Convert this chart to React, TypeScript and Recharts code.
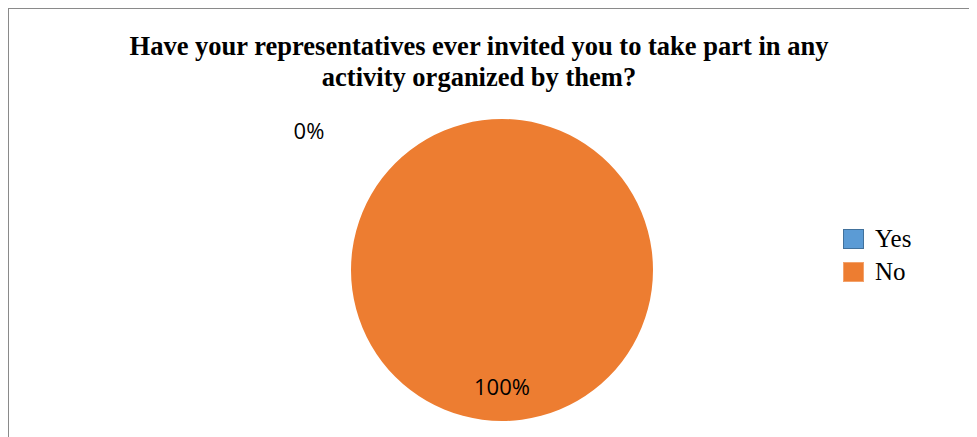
import React from 'react';
import { PieChart, Pie, Cell, Legend } from 'recharts';

const titleLines = [
  'Have your representatives ever invited you to take part in any',
  'activity organized by them?',
];
const categories = ['Yes', 'No'];
const values = [0, 100];
const fills = ['#5B9BD5', '#ED7D31'];
const strokes = ['#41719C', '#F3A26B'];

const data = categories.map((name, i) => ({ name, value: values[i] }));

const RAD = Math.PI / 180;
// label placement relative to slice (angle offset in degrees, radius factor)
const labelPlacement = [
  { da: 54, rf: 1.58 },
  { da: 0, rf: 0.77 },
];

const renderLabel = (props: any) => {
  const { cx, cy, midAngle, outerRadius, percent, index } = props;
  const p = labelPlacement[index];
  const a = (midAngle + p.da) * RAD;
  const x = cx + outerRadius * p.rf * Math.cos(-a);
  const y = cy + outerRadius * p.rf * Math.sin(-a);
  return (
    <text
      key={`lbl-${index}`}
      x={x}
      y={y}
      textAnchor="middle"
      dominantBaseline="central"
      fill="#000"
      style={{ fontFamily: '"Open Sans", sans-serif', fontSize: 22 }}
    >
      {`${Math.round(percent * 100)}%`}
    </text>
  );
};

const renderLegend = (props: any) => {
  const payload = [...(props.payload || [])].sort(
    (a: any, b: any) => categories.indexOf(a.value) - categories.indexOf(b.value)
  );
  return (
    <div>
      {payload.map((entry: any, i: number) => {
        const idx = categories.indexOf(entry.value);
        return (
          <div
            key={`leg-${i}`}
            style={{ display: 'flex', alignItems: 'center', height: 33 }}
          >
            <div
              style={{
                width: 19,
                height: 18,
                background: fills[idx],
                border: `1px solid ${strokes[idx]}`,
                boxSizing: 'content-box',
                marginRight: 11,
              }}
            />
            <span
              style={{
                fontFamily: '"Liberation Serif", "Times New Roman", serif',
                fontSize: 25,
                color: '#000',
                lineHeight: '33px',
              }}
            >
              {entry.value}
            </span>
          </div>
        );
      })}
    </div>
  );
};

export default function App() {
  return (
    <div
      style={{
        position: 'relative',
        width: 968,
        height: 428,
        borderTop: '1px solid #8a8a8a',
        borderLeft: '1px solid #8a8a8a',
        background: '#fff',
        overflow: 'hidden',
      }}
    >
      <div
        style={{
          position: 'absolute',
          left: 0,
          top: 21.5,
          width: 940,
          textAlign: 'center',
          fontFamily: '"Liberation Serif", "Times New Roman", serif',
          fontWeight: 'bold',
          fontSize: 26.5,
          lineHeight: '31px',
          color: '#000',
          zIndex: 2,
        }}
      >
        {titleLines.map((t, i) => (
          <div key={i} style={{ whiteSpace: 'nowrap' }}>
            {t}
          </div>
        ))}
      </div>
      <PieChart width={968} height={428} margin={{ top: 0, right: 0, bottom: 0, left: 0 }}>
        <Pie
          data={data}
          dataKey="value"
          nameKey="name"
          cx={493}
          cy={261}
          outerRadius={151}
          startAngle={90}
          endAngle={-270}
          stroke="none"
          label={renderLabel}
          labelLine={false}
          isAnimationActive={false}
        >
          {data.map((d, i) => (
            <Cell key={d.name} fill={fills[i]} />
          ))}
        </Pie>
        <Legend
          layout="vertical"
          align="right"
          verticalAlign="middle"
          content={renderLegend}
          wrapperStyle={{ left: 834, top: 213, width: 120, right: 'auto' }}
        />
      </PieChart>
    </div>
  );
}
